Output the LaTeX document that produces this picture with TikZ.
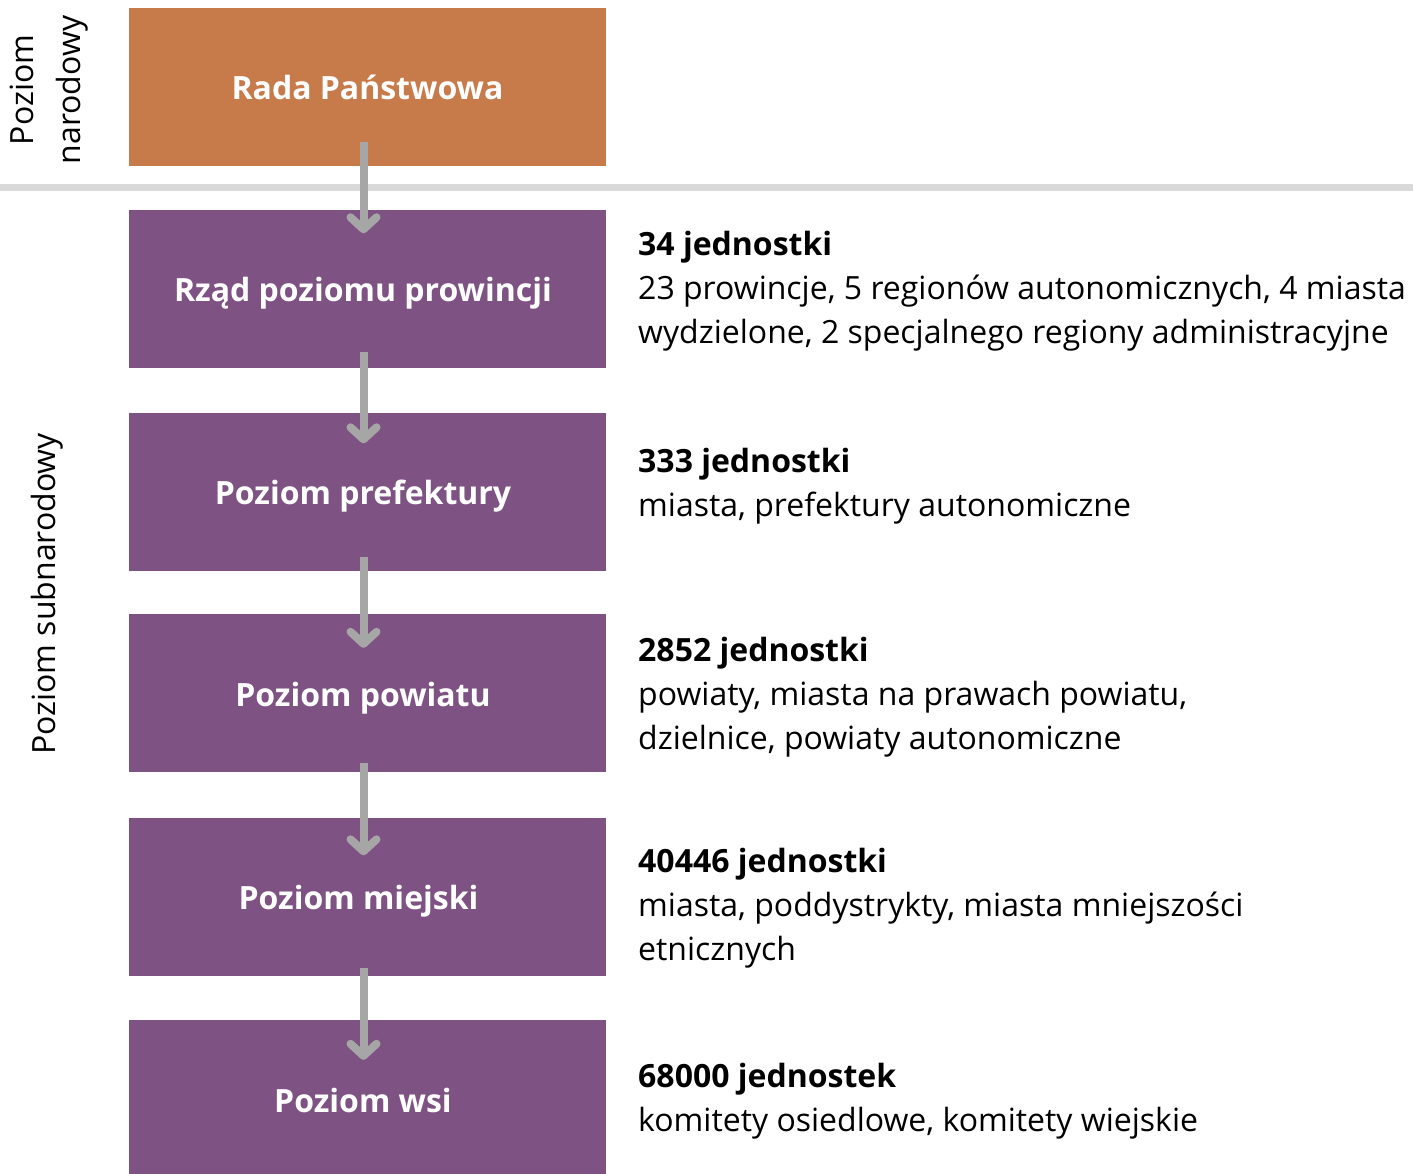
\documentclass[tikz,border=0pt]{standalone}
\usepackage{fontspec}
\setmainfont{Open Sans}
\usetikzlibrary{arrows.meta}
\definecolor{orangebox}{HTML}{C77B4B}
\definecolor{purplebox}{HTML}{7E5384}
\definecolor{arrowgray}{HTML}{A6A6A6}
\definecolor{sepgray}{HTML}{D9D9D9}
\tikzset{
  levelbox/.style={fill=purplebox, draw=none, minimum width=477pt, minimum height=158pt, inner sep=0pt,
    text height=26pt, text depth=0pt,
    text=white, font=\fontsize{32}{38}\selectfont\bfseries},
  infotext/.style={anchor=west, align=left, inner sep=0pt, font=\fontsize{32}{44}\selectfont},
  sidelabel/.style={rotate=90, align=center, inner sep=0pt, font=\fontsize{32}{47}\selectfont},
  flowarrow/.style={draw=arrowgray, line width=8pt,
    -{Straight Barb[length=12pt,width=26pt,line cap=round,line join=round]}},
}
\newcommand{\shl}{\hspace*{-9pt}}
\begin{document}
\begin{tikzpicture}[x=1pt,y=-1pt]
\useasboundingbox (0,0) rectangle (1413,1173);
\draw[sepgray, line width=7pt] (0,187) -- (1413,187);
\node[levelbox, fill=orangebox] (n0) at (367.5,86.5) {Rada Państwowa};
\node[levelbox] (n1) at (367.5,288.5) {\shl Rząd poziomu prowincji};
\node[levelbox] (n2) at (367.5,491.5) {\shl Poziom prefektury};
\node[levelbox] (n3) at (367.5,693) {\shl Poziom powiatu};
\node[levelbox] (n4) at (367.5,896.5) {\shl\shl Poziom miejski};
\node[levelbox] (n5) at (367.5,1099) {\shl Poziom wsi};
\foreach \a/\b/\s/\e in {n0/n1/24/24,n1/n2/16/31,n2/n3/14/34,n3/n4/9/38,n4/n5/8/40}{
  \draw[flowarrow] ([xshift=-4pt,yshift=\s pt]\a.south) -- ([xshift=-4pt,yshift=-\e pt]\b.north);
}
\node[infotext] (t1) at (638,291) {\textbf{34 jednostki}\\23 prowincje, 5 regionów autonomicznych, 4 miasta\\wydzielone, 2 specjalnego regiony administracyjne};
\node[infotext] (t2) at (638,486) {\textbf{333 jednostki}\\miasta, prefektury autonomiczne};
\node[infotext] (t3) at (638,697) {\textbf{2852 jednostki}\\powiaty, miasta na prawach powiatu,\\dzielnice, powiaty autonomiczne};
\node[infotext] (t4) at (638,908) {\textbf{40446 jednostki}\\miasta, poddystrykty, miasta mniejszości\\etnicznych};
\node[infotext] (t5) at (638,1101) {\textbf{68000 jednostek}\\komitety osiedlowe, komitety wiejskie};
\node[sidelabel] (s1) at (49,90) {Poziom\\narodowy};
\node[sidelabel] (s2) at (47,594) {Poziom subnarodowy};
\end{tikzpicture}
\end{document}
